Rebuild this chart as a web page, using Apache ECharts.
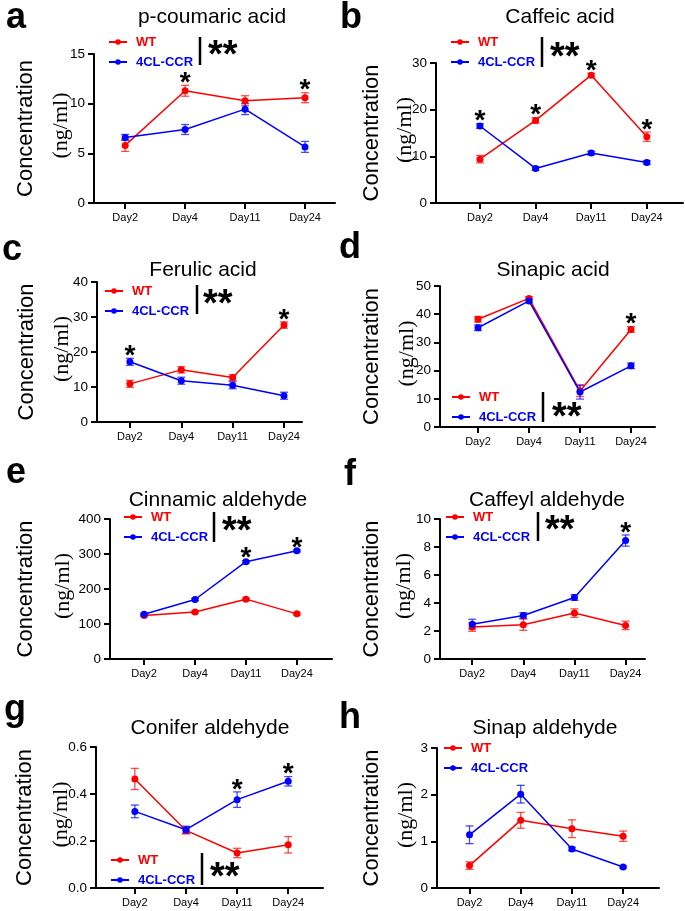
<!DOCTYPE html>
<html>
<head>
<meta charset="utf-8">
<script src="https://cdn.jsdelivr.net/npm/echarts@6/dist/echarts.min.js"></script>
<style>
  html, body { margin: 0; padding: 0; background: #fff; }
  #chart { width: 685px; height: 911px; }
</style>
</head>
<body>
<div id="chart"></div>
<script>
const days = ['Day2', 'Day4', 'Day11', 'Day24'];

// a - p-coumaric acid
const coumaricWT = [5.8, 11.3, 10.3, 10.6];
const coumaricWTErr = [0.6, 0.55, 0.5, 0.5];
const coumaricCCR = [6.6, 7.4, 9.45, 5.65];
const coumaricCCRErr = [0.3, 0.5, 0.55, 0.55];
const coumaricStars = [1, 3];

// b - caffeic acid
const caffeicWT = [9.4, 17.7, 27.4, 14.2];
const caffeicWTErr = [0.8, 0.6, 0.4, 1.0];
const caffeicCCR = [16.5, 7.4, 10.7, 8.7];
const caffeicCCRErr = [0.5, 0.4, 0.4, 0.4];
const caffeicStars = [0, 1, 2, 3];

// c - ferulic acid
const ferulicWT = [10.9, 14.9, 12.7, 27.7];
const ferulicWTErr = [1.0, 0.9, 0.8, 0.9];
const ferulicCCR = [17.2, 11.8, 10.5, 7.5];
const ferulicCCRErr = [1.0, 1.0, 1.0, 1.0];
const ferulicStars = [0, 3];

// d - sinapic acid
const sinapicWT = [38.2, 45.6, 12.8, 34.6];
const sinapicWTErr = [1.0, 0.6, 2.0, 1.0];
const sinapicCCR = [35.2, 44.7, 12.4, 21.7];
const sinapicCCRErr = [1.0, 0.6, 2.5, 1.0];
const sinapicStars = [3];

// e - cinnamic aldehyde
const cinnamicWT = [124, 134, 171, 129];
const cinnamicWTErr = [3, 3, 3, 3];
const cinnamicCCR = [128, 170, 278, 309];
const cinnamicCCRErr = [3, 3, 3, 3];
const cinnamicStars = [2, 3];

// f - caffeyl aldehyde
const caffeylWT = [2.28, 2.45, 3.28, 2.4];
const caffeylWTErr = [0.3, 0.4, 0.3, 0.3];
const caffeylCCR = [2.49, 3.11, 4.39, 8.46];
const caffeylCCRErr = [0.35, 0.2, 0.2, 0.4];
const caffeylStars = [3];

// g - conifer aldehyde
const coniferWT = [0.464, 0.245, 0.149, 0.184];
const coniferWTErr = [0.045, 0.015, 0.02, 0.035];
const coniferCCR = [0.326, 0.248, 0.376, 0.454];
const coniferCCRErr = [0.027, 0.015, 0.033, 0.02];
const coniferStars = [2, 3];

// h - sinap aldehyde
const sinapWT = [0.48, 1.45, 1.27, 1.11];
const sinapWTErr = [0.08, 0.17, 0.19, 0.11];
const sinapCCR = [1.14, 2.01, 0.836, 0.45];
const sinapCCRErr = [0.19, 0.19, 0.04, 0.02];
const sinapStars = [];

const RED = '#ff0000';
const BLUE = '#0000ff';
const SANS = '"Liberation Sans", Arial, sans-serif';
const SERIF = '"Liberation Serif", "Times New Roman", serif';

// layout of each panel (pixels) + which data it uses
const panels = [
  { letter: 'a', lx: 6, ly: 30, title: 'p-coumaric acid', tx: 212, ty: 17,
    grid: [94, 54, 241, 149], xr: [-0.52, 3.5], ymax: 15, step: 5,
    wt: coumaricWT, wtErr: coumaricWTErr, ccr: coumaricCCR, ccrErr: coumaricCCRErr, stars: coumaricStars,
    legend: [108, 35], bracket: [200, 37, 65, 208, 50], cx: 26, nx: 61 },
  { letter: 'b', lx: 340, ly: 30, title: 'Caffeic acid', tx: 560, ty: 17,
    grid: [436, 63, 247, 140], xr: [-0.79, 3.65], ymax: 30, step: 10,
    wt: caffeicWT, wtErr: caffeicWTErr, ccr: caffeicCCR, ccrErr: caffeicCCRErr, stars: caffeicStars,
    legend: [450, 35], bracket: [542, 37, 67, 550, 52], cx: 372, nx: 405 },
  { letter: 'c', lx: 2, ly: 262, title: 'Ferulic acid', tx: 203, ty: 270,
    grid: [97, 282, 205, 140], xr: [-0.64, 3.35], ymax: 40, step: 10,
    wt: ferulicWT, wtErr: ferulicWTErr, ccr: ferulicCCR, ccrErr: ferulicCCRErr, stars: ferulicStars,
    legend: [104, 284], bracket: [197, 285, 314, 203, 299], cx: 27, nx: 62 },
  { letter: 'd', lx: 339, ly: 260, title: 'Sinapic acid', tx: 553, ty: 270,
    grid: [440, 286, 215, 141], xr: [-0.745, 3.47], ymax: 50, step: 10,
    wt: sinapicWT, wtErr: sinapicWTErr, ccr: sinapicCCR, ccrErr: sinapicCCRErr, stars: sinapicStars,
    legend: [451, 390], bracket: [543, 392, 422, 552, 412], cx: 372, nx: 407 },
  { letter: 'e', lx: 6, ly: 485, title: 'Cinnamic aldehyde', tx: 218, ty: 500,
    grid: [110, 519, 222, 140], xr: [-0.67, 3.69], ymax: 400, step: 100,
    wt: cinnamicWT, wtErr: cinnamicWTErr, ccr: cinnamicCCR, ccrErr: cinnamicCCRErr, stars: cinnamicStars,
    legend: [123, 510], bracket: [214, 512, 542, 222, 526], cx: 26, nx: 63 },
  { letter: 'f', lx: 344, ly: 487, title: 'Caffeyl aldehyde', tx: 547, ty: 500,
    grid: [440, 519, 205, 140], xr: [-0.63, 3.38], ymax: 10, step: 2,
    wt: caffeylWT, wtErr: caffeylWTErr, ccr: caffeylCCR, ccrErr: caffeylCCRErr, stars: caffeylStars,
    legend: [445, 510], bracket: [538, 512, 541, 545, 525], cx: 372, nx: 404 },
  { letter: 'g', lx: 4, ly: 722, title: 'Conifer aldehyde', tx: 210, ty: 728,
    grid: [96, 747, 227, 141], xr: [-0.76, 3.68], ymax: 0.6, step: 0.2, decimals: 1,
    wt: coniferWT, wtErr: coniferWTErr, ccr: coniferCCR, ccrErr: coniferCCRErr, stars: coniferStars,
    legend: [110, 853], bracket: [202, 853, 885, 210, 872], cx: 25, nx: 61 },
  { letter: 'h', lx: 339, ly: 730, title: 'Sinap aldehyde', tx: 545, ty: 728,
    grid: [437, 748, 222, 140], xr: [-0.635, 3.7], ymax: 3, step: 1,
    wt: sinapWT, wtErr: sinapWTErr, ccr: sinapCCR, ccrErr: sinapCCRErr, stars: sinapStars,
    legend: [443, 741], bracket: null, cx: 372, nx: 406 }
];

/**
 * Error bars drawn through the axis scales
 */
function errorBarSeries(idx, means, errs, color) {
  return {
    type: 'custom',
    xAxisIndex: idx,
    yAxisIndex: idx,
    silent: true,
    z: 2,
    data: means.map((m, i) => [i, m - errs[i], m + errs[i]]),
    encode: { x: 0, y: [1, 2] },
    renderItem: (params, api) => {
      const lo = api.coord([api.value(0), api.value(1)]);
      const hi = api.coord([api.value(0), api.value(2)]);
      const w = 4;
      const style = { stroke: color, lineWidth: 1.3, opacity: 0.7 };
      return {
        type: 'group',
        children: [
          { type: 'line', shape: { x1: lo[0], y1: lo[1], x2: hi[0], y2: hi[1] }, style },
          { type: 'line', shape: { x1: lo[0] - w, y1: lo[1], x2: lo[0] + w, y2: lo[1] }, style },
          { type: 'line', shape: { x1: hi[0] - w, y1: hi[1], x2: hi[0] + w, y2: hi[1] }, style }
        ]
      };
    }
  };
}

/**
 * Significance stars above the highest error bar of a day
 */
function starSeries(idx, p) {
  const tops = p.stars.map(d => [d, Math.max(p.wt[d] + p.wtErr[d], p.ccr[d] + p.ccrErr[d])]);
  return {
    type: 'custom',
    xAxisIndex: idx,
    yAxisIndex: idx,
    silent: true,
    z: 5,
    data: tops,
    renderItem: (params, api) => {
      const pt = api.coord([api.value(0), api.value(1)]);
      return {
        type: 'text',
        x: pt[0],
        y: pt[1] - 2,
        style: { text: '*', fontSize: 28, fontWeight: 'bold', fontFamily: SANS, fill: '#000', align: 'center', verticalAlign: 'middle' }
      };
    }
  };
}

function lineSeries(idx, name, values, color) {
  return {
    type: 'line',
    name,
    xAxisIndex: idx,
    yAxisIndex: idx,
    data: values.map((v, i) => [i, v]),
    symbol: 'circle',
    symbolSize: 7,
    z: 3,
    itemStyle: { color },
    lineStyle: { color, width: 1.5 },
    animation: false
  };
}

const grids = [], xAxes = [], yAxes = [], series = [], legends = [], graphics = [];

panels.forEach((p, idx) => {
  const [gl, gt, gw, gh] = p.grid;
  grids.push({ left: gl, top: gt, width: gw, height: gh });

  xAxes.push({
    gridIndex: idx,
    type: 'value',
    min: p.xr[0],
    max: p.xr[1],
    splitLine: { show: false },
    axisLine: { onZero: false, lineStyle: { color: '#000', width: 2 } },
    axisTick: { show: true, customValues: [0, 1, 2, 3], length: 6, lineStyle: { color: '#000', width: 2 } },
    axisLabel: {
      customValues: [0, 1, 2, 3],
      formatter: v => days[Math.round(v)],
      fontSize: 11, color: '#000', fontFamily: SANS, margin: 9
    }
  });

  yAxes.push({
    gridIndex: idx,
    type: 'value',
    min: 0,
    max: p.ymax,
    interval: p.step,
    splitLine: { show: false },
    axisLine: { show: true, onZero: false, lineStyle: { color: '#000', width: 2 } },
    axisTick: { show: true, length: 6, lineStyle: { color: '#000', width: 2 } },
    axisLabel: {
      fontSize: 13.5, color: '#000', fontFamily: SANS, margin: 9,
      formatter: v => p.decimals ? v.toFixed(p.decimals) : String(v)
    }
  });

  series.push(errorBarSeries(idx, p.wt, p.wtErr, RED));
  series.push(errorBarSeries(idx, p.ccr, p.ccrErr, BLUE));
  series.push(lineSeries(idx, 'WT', p.wt, RED));
  series.push(lineSeries(idx, '4CL-CCR', p.ccr, BLUE));
  if (p.stars.length) series.push(starSeries(idx, p));

  legends.push({
    left: p.legend[0],
    top: p.legend[1],
    orient: 'vertical',
    selectedMode: false,
    itemWidth: 18,
    itemHeight: 7,
    itemGap: 6,
    padding: 0,
    textStyle: { fontSize: 13, fontWeight: 'bold', fontFamily: SANS, lineHeight: 14, padding: [0, 0, 0, 4] },
    data: [
      { name: 'WT', textStyle: { color: RED } },
      { name: '4CL-CCR', textStyle: { color: BLUE } }
    ]
  });

  // panel letter, title, y-axis name
  const midY = gt + gh / 2;
  graphics.push(
    { type: 'text', x: p.lx, y: p.ly + 6, style: { text: p.letter, font: 'bold 36px ' + SANS, fill: '#000', align: 'left', verticalAlign: 'bottom' } },
    { type: 'text', x: p.tx, y: p.ty, style: { text: p.title, font: '21px ' + SANS, fill: '#000', align: 'center', verticalAlign: 'middle' } },
    { type: 'text', x: p.cx, y: midY, rotation: Math.PI / 2, style: { text: 'Concentration', font: '22px ' + SANS, fill: '#000', align: 'center', verticalAlign: 'middle' } },
    { type: 'text', x: p.nx, y: midY - 3, rotation: Math.PI / 2, style: { text: '(ng/ml)', font: '22px ' + SERIF, fill: '#000', align: 'center', verticalAlign: 'middle' } }
  );

  // group comparison bracket
  if (p.bracket) {
    const [bx, by1, by2, sx, sy] = p.bracket;
    graphics.push(
      { type: 'line', shape: { x1: bx, y1: by1, x2: bx, y2: by2 }, style: { stroke: '#000', lineWidth: 2.5 } },
      { type: 'text', x: sx, y: sy + 7, style: { text: '**', font: 'bold 38px ' + SANS, fill: '#000', align: 'left', verticalAlign: 'middle' } }
    );
  }
});

const chart = echarts.init(document.getElementById('chart'), null, { renderer: 'canvas' });

chart.setOption({
  backgroundColor: '#fff',
  animation: false,
  grid: grids,
  xAxis: xAxes,
  yAxis: yAxes,
  legend: legends,
  series,
  graphic: graphics
});

window.addEventListener('resize', () => chart.resize());
</script>
</body>
</html>
